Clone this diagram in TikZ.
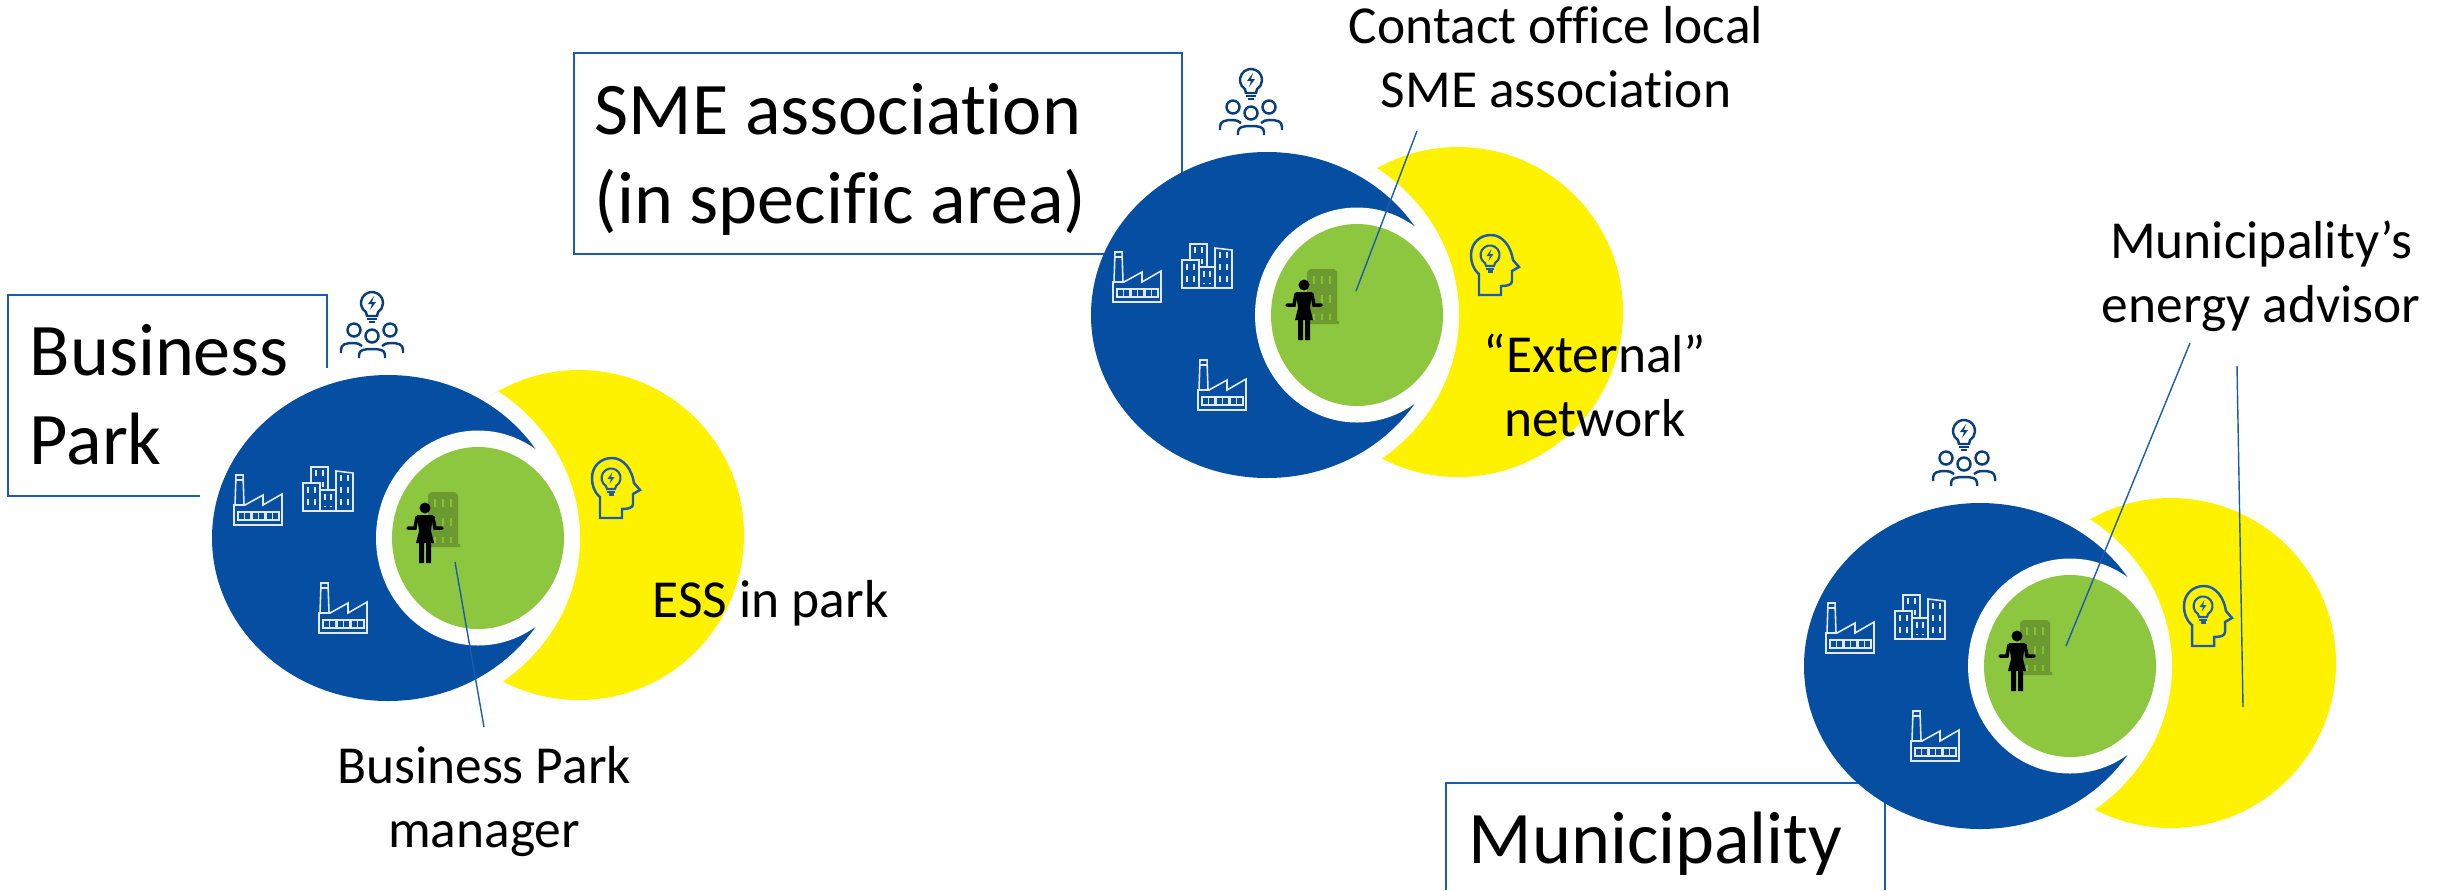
\documentclass[tikz,border=0pt]{standalone}
\usepackage{fontspec}
\setmainfont[Ligatures=NoCommon]{Carlito}
\usetikzlibrary{positioning}

\definecolor{parkblue}{HTML}{054EA2}
\definecolor{parkyellow}{HTML}{FFF200}
\definecolor{parkgreen}{HTML}{8DC63F}
\definecolor{towergreen}{HTML}{6B9A2E}
\definecolor{boxblue}{HTML}{1B5CB0}
\definecolor{iconnavy}{HTML}{0A3F7C}
\definecolor{iconwhite}{HTML}{E4E8EF}

\tikzset{
  bigtext/.style={font=\fontsize{21.1}{25.3}\selectfont, align=left, inner sep=0pt, anchor=base west},
  labeltext/.style={font=\fontsize{15.2}{18.2}\selectfont, align=center, inner sep=0pt, anchor=base},
  boxline/.style={draw=boxblue, line width=0.5pt},
  leader/.style={draw=boxblue, line width=0.4pt},
  whiteline/.style={draw=iconwhite, line width=0.45pt},
  navyline/.style={draw=iconnavy, line width=0.7pt},
  bulb/.pic={
    \draw[navyline] (-6,9.2) arc[start angle=123, end angle=417, radius=11] -- (5,13) -- (-5,13) -- cycle;
    \draw[navyline] (-5,16) -- (5,16) (-3,19) -- (3,19);
    \fill[iconnavy] (2,-7) -- (-4,1) -- (0,1) -- (-2,7) -- (4,-1) -- (0,-1) -- cycle;
  },
  crowd/.pic={
    \draw[navyline] (-18,27) circle (6.5) (18,27) circle (6.5) (0,33) circle (6.5);
    \draw[navyline] (-31,50) -- (-31,47) .. controls (-31,41) and (-26,40) .. (-18,40) .. controls (-15,40) and (-12,41) .. (-10,43);
    \draw[navyline] (31,50) -- (31,47) .. controls (31,41) and (26,40) .. (18,40) .. controls (15,40) and (12,41) .. (10,43);
    \draw[navyline] (-13,55) -- (-13,52) .. controls (-13,47) and (-8,46) .. (0,46) .. controls (8,46) and (13,47) .. (13,52) -- (13,55);
  },
  factory/.pic={
    \draw[whiteline] (0,0) -- (0,-20) -- (11,-20) -- (29,-30) -- (29,-20) -- (48,-31) -- (48,0) -- cycle;
    \draw[whiteline] (1,-20) -- (2,-50) -- (9,-50) -- (10,-20) (2,-45) -- (9,-45);
    \draw[whiteline] (4,-5) rectangle (17,-13) (18,-5) rectangle (31,-13) (32,-5) rectangle (45,-13);
    \draw[whiteline] (10.5,-5) -- (10.5,-13) (24.5,-5) -- (24.5,-13) (38.5,-5) -- (38.5,-13);
  },
  windows/.style={draw=iconwhite, line width=0.6pt, dash pattern=on 1.8pt off 1.6pt},
  offices/.pic={
    \draw[whiteline] (0,0) rectangle (17,-28) (8,-28) -- (8,-44) -- (25,-44) -- (25,-21) (17,0) rectangle (33,-21) (33,0) -- (33,-40) -- (50,-38) -- (50,0) -- cycle;
    \draw[windows] (5,-24) -- (5,-4) (12,-24) -- (12,-4) (13,-41) -- (13,-30) (20,-41) -- (20,-24) (22,-17) -- (22,-5) (28,-17) -- (28,-5) (38,-36) -- (38,-4) (45,-36) -- (45,-4);
  },
  person/.pic={
    \fill[black] (0,-55) circle (5.5);
    \fill[black] (-8,-48) -- (8,-48) -- (6,-32) -- (9,-20) -- (-9,-20) -- (-6,-32) -- cycle;
    \fill[black] (-6,-20) rectangle (-1,0) (1,-20) rectangle (6,0);
    \draw[black, line width=1pt, line cap=round] (-8,-46) -- (-10,-35) -- (-17,-35) (8,-46) -- (10,-35) -- (17,-35);
  },
  tower/.pic={
    \fill[towergreen] (0,0) -- (0,-52) -- (3,-55) -- (27,-55) -- (30,-52) -- (30,-3) -- (32,-3) -- (32,0) -- cycle;
    \draw[parkgreen!85!towergreen, line width=0.7pt, dash pattern=on 2.2pt off 3.2pt] (7,-48) -- (7,-4) (15,-48) -- (15,-4) (23,-48) -- (23,-4);
  },
  brainhead/.pic={
    \draw[draw=boxblue, line width=0.7pt] (212,-20) -- (212,-41) .. controls (206,-46) and (204,-53) .. (204,-60) .. controls (204,-72) and (213,-80) .. (224,-80) .. controls (236,-80) and (244,-68) .. (246,-55) -- (252,-48) -- (245,-44) -- (245,-34) .. controls (245,-30) and (240,-29) .. (234,-29) -- (234,-20) -- cycle;
  },
  smallbulb/.pic={
    \draw[draw=boxblue, line width=0.6pt] (-5,8) arc[start angle=122, end angle=418, radius=9.5] -- (4,11) -- (-4,11) -- cycle;
    \draw[draw=boxblue, line width=0.6pt] (-4,14) -- (4,14) (-2.5,16.5) -- (2.5,16.5);
    \fill[boxblue] (1.5,-6) -- (-3.5,1) -- (0,1) -- (-1.5,6) -- (3.5,-1) -- (0,-1) -- cycle;
  },
  venn/.pic={
    \fill[parkyellow] (191,-3) circle (165);
    \begin{scope}
      \clip (191,-3) circle (165);
      \fill[white] (0,0) ellipse [x radius=192, y radius=179];
    \end{scope}
    \fill[parkblue] (0,0) ellipse [x radius=176, y radius=163];
    \fill[white] (90,0) ellipse [x radius=102, y radius=107.5];
    \fill[parkgreen] (90,0) ellipse [x radius=86, y radius=91];
    \pic at (40,9) {tower};
    \pic at (37,25) {person};
    \pic at (-154,-13) {factory};
    \pic at (-69,95) {factory};
    \pic at (-85,-27) {offices};
    \pic at (-16,-235) {bulb};
    \pic at (-16,-235) {crowd};
    \pic {brainhead};
    \pic at (223,-60) {smallbulb};
  }
}

\begin{document}
\begin{tikzpicture}[x=0.01cm, y=-0.01cm]
\useasboundingbox (0,0) rectangle (2445,890);

% boxes, the circles cover parts of them
\draw[boxline] (327,368) -- (327,295) -- (8,295) -- (8,496) -- (200,496);
\draw[boxline] (574,53) rectangle (1182,254);
\draw[boxline] (1885,890) -- (1885,783) -- (1446,783) -- (1446,890);

\pic (park) at (388,538) {venn};
\pic (sme) at (1267,315) {venn};
\pic (muni) at (1980,666) {venn};

\node (parktitle)[bigtext] at (29,464) {Business\\Park};
\node (smetitle)[bigtext] at (594,223) {SME association\\(in specific area)};
\node (munititle)[bigtext] at (1468,863) {Municipality};

\node (manager)[labeltext] at (484,847) {Business Park\\manager};
\node (ess)[labeltext, anchor=base west] at (652,617) {ESS in park};
\node (contact)[labeltext] at (1556,107) {Contact office local\\SME association};
\node (external)[labeltext] at (1595,436) {“External”\\network};
\node (advisor)[labeltext] at (2261,322) {Municipality’s\\energy advisor};

\coordinate (managertop) at (484,727);
\coordinate (managerin) at (455,562);
\coordinate (contacttop) at (1417,131);
\coordinate (contactin) at (1356,291);
\coordinate (advisorleft) at (2190,343);
\coordinate (advisorgreen) at (2066,646);
\coordinate (advisorright) at (2237,366);
\coordinate (advisoryellow) at (2243,707);

\draw[leader] (managertop) -- (managerin);
\draw[leader] (contacttop) -- (contactin);
\draw[leader] (advisorleft) -- (advisorgreen);
\draw[leader] (advisorright) -- (advisoryellow);
\end{tikzpicture}
\end{document}
